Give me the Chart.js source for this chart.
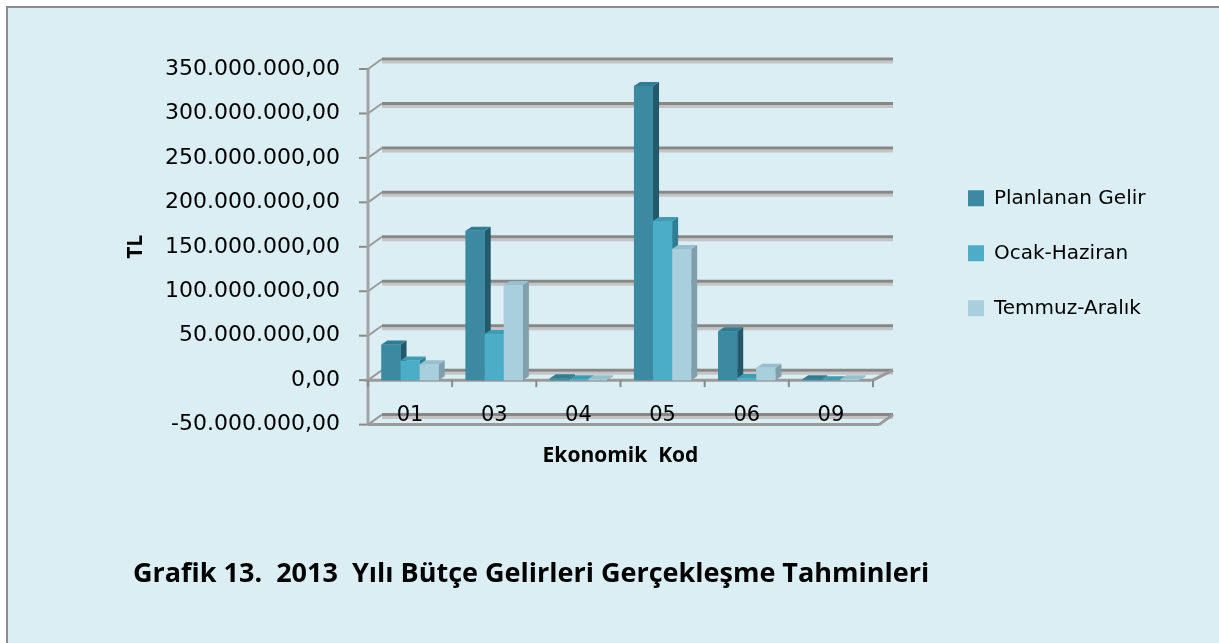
<!DOCTYPE html>
<html>
<head>
<meta charset="utf-8">
<script src="https://cdn.jsdelivr.net/npm/chart.js@4.4.1/dist/chart.umd.min.js"></script>
<style>
  html, body { margin: 0; padding: 0; background: #fff; }
  canvas { display: block; }
</style>
</head>
<body>
<canvas id="grafik13" width="1219" height="643"></canvas>
<script>
// veriler (TL)
var kodlar = ["01", "03", "04", "05", "06", "09"];
var planlananGelir = [40000000, 168000000, 2000000, 331000000, 55000000, 1000000];
var ocakHaziran = [22000000, 52000000, 1000000, 179000000, 2500000, 0];
var temmuzAralik = [18000000, 107000000, 1000000, 147500000, 14000000, 1000000];

var onRenk = ["#3B8AA2", "#4BADC7", "#A9CEDC"];
var yanRenk = ["#235A6B", "#2E7F95", "#7E9FAB"];
var ustRenk = ["#2F7C93", "#3E9DB5", "#98BFCE"];

var GRAFIK_SAG = 873;   // cizim alaninin sag kenari
var LEGEND_KAYMA = 60;  // legend ile grafik arasi bosluk

function tlFormat(v) {
    var s = Math.abs(v).toFixed(0).replace(/\B(?=(\d{3})+(?!\d))/g, ".");
    return (v < 0 ? "-" : "") + s + ",00";
}

function cizgi(ctx, x1, y1, x2, y2, renk, kalinlik) {
    ctx.strokeStyle = renk;
    ctx.lineWidth = kalinlik;
    ctx.beginPath();
    ctx.moveTo(x1, y1);
    ctx.lineTo(x2, y2);
    ctx.stroke();
}

// arka plan, cerceve, 3B duvar ve zemin
var arkaPlan = {
    id: 'arkaPlan',
    beforeDraw: function (chart) {
        var ctx = chart.ctx, w = chart.width, h = chart.height;
        var a = chart.chartArea, x = chart.scales.x, y = chart.scales.y;
        var dx = 14, dy = -10, uzat = 20;
        ctx.save();
        ctx.fillStyle = "#ffffff";
        ctx.fillRect(0, 0, w, h);
        ctx.fillStyle = "#DAEEF3";
        ctx.fillRect(7, 7, w, h);
        ctx.strokeStyle = "#8c8c8c";
        ctx.lineWidth = 2;
        ctx.beginPath();
        ctx.moveTo(7, h);
        ctx.lineTo(7, 7);
        ctx.lineTo(w, 7);
        ctx.stroke();

        y.ticks.forEach(function (t) {
            var py = y.getPixelForValue(t.value);
            cizgi(ctx, a.left + dx, py + dy + 3, a.right + uzat, py + dy + 3, "#c4c4c4", 3);
            cizgi(ctx, a.left + dx, py + dy, a.right + uzat, py + dy, "#878787", 3);
            cizgi(ctx, a.left, py, a.left + dx, py + dy, "#9a9a9a", 2);
            cizgi(ctx, a.left - 9, py, a.left, py, "#8a8a8a", 2);
        });
        cizgi(ctx, a.left, a.top, a.left, a.bottom, "#a3a3a3", 3);
        var y0 = y.getPixelForValue(0);
        cizgi(ctx, a.left - 3, y0, a.right, y0, "#9a9a9a", 3);
        cizgi(ctx, a.right, y0, a.right + uzat, y0 + dy, "#9a9a9a", 3);
        var n = chart.data.labels.length;
        for (var i = 0; i <= n; i++) {
            var px;
            if (i === 0) px = a.left;
            else if (i === n) px = a.right;
            else px = (x.getPixelForValue(i - 1) + x.getPixelForValue(i)) / 2;
            cizgi(ctx, px, y0, px, y0 + 7, "#8a8a8a", 2);
        }
        var yb = a.bottom;
        cizgi(ctx, a.left + dx, yb + dy + 3, a.right + uzat, yb + dy + 3, "#c4c4c4", 3);
        cizgi(ctx, a.left, yb, a.right + 6, yb, "#9a9a9a", 3);
        cizgi(ctx, a.right + 6, yb, a.right + uzat, yb + dy, "#9a9a9a", 3);
        ctx.restore();
    }
};

// 3B cubuklar
var cubuk3B = {
    id: 'cubuk3B',
    afterDatasetsDraw: function (chart) {
        var ctx = chart.ctx, d = 6, e = 4;
        var n = chart.data.labels.length;
        ctx.save();
        for (var j = 0; j < n; j++) {
            for (var i = 0; i < chart.data.datasets.length; i++) {
                var el = chart.getDatasetMeta(i).data[j];
                var p = el.getProps(['x', 'y', 'base', 'width'], true);
                var l = p.x - p.width / 2, r = p.x + p.width / 2;
                var ust = Math.min(p.y, p.base), alt = Math.max(p.y, p.base);
                ctx.fillStyle = yanRenk[i];
                ctx.beginPath();
                ctx.moveTo(r, ust); ctx.lineTo(r + d, ust - e); ctx.lineTo(r + d, alt - e); ctx.lineTo(r, alt);
                ctx.closePath(); ctx.fill();
                ctx.fillStyle = ustRenk[i];
                ctx.beginPath();
                ctx.moveTo(l, ust); ctx.lineTo(l + d, ust - e); ctx.lineTo(r + d, ust - e); ctx.lineTo(r, ust);
                ctx.closePath(); ctx.fill();
                ctx.fillStyle = onRenk[i];
                ctx.fillRect(l, ust, p.width, alt - ust);
            }
        }
        ctx.restore();
    }
};

var ctx = document.getElementById("grafik13").getContext('2d');
var grafik = new Chart(ctx, {
    type: 'bar',
    data: {
        labels: kodlar,
        datasets: [
            { label: 'Planlanan Gelir', data: planlananGelir, backgroundColor: onRenk[0], borderWidth: 0 },
            { label: 'Ocak-Haziran', data: ocakHaziran, backgroundColor: onRenk[1], borderWidth: 0 },
            { label: 'Temmuz-Aralık', data: temmuzAralik, backgroundColor: onRenk[2], borderWidth: 0 }
        ]
    },
    options: {
        responsive: false,
        animation: false,
        categoryPercentage: 0.68,
        barPercentage: 1,
        layout: { padding: { left: 133, top: 69, right: 40, bottom: 52 } },
        scales: {
            x: {
                grid: { display: false, drawTicks: false },
                border: { display: false },
                ticks: { padding: -22, color: '#000', font: { family: 'DejaVu Sans', size: 21 } },
                title: {
                    display: true, text: 'Ekonomik  Kod', color: '#000',
                    font: { family: 'Open Sans', size: 21, weight: 'bold' },
                    padding: { top: 15, bottom: 0 }
                },
                afterFit: function (s) { s.height = 44; },
                afterUpdate: function (s) { s._computeLabelArea = function () { return undefined; }; }
            },
            y: {
                min: -50000000, max: 350000000,
                grid: { display: false, drawTicks: false },
                border: { display: false },
                ticks: {
                    stepSize: 50000000, padding: 28, color: '#000',
                    font: { family: 'DejaVu Sans', size: 22 },
                    callback: function (v) { return tlFormat(v); }
                },
                title: {
                    display: true, text: 'TL', color: '#000',
                    font: { family: 'Open Sans', size: 21, weight: 'bold', lineHeight: 0.3 },
                    padding: 0
                },
                afterFit: function (s) { s.width = 235; }
            }
        },
        plugins: {
            legend: {
                position: 'right',
                fullSize: false,
                title: { display: true, text: ' ', font: { size: 5 }, padding: { top: 0, bottom: 7 } },
                labels: {
                    boxWidth: 16, boxHeight: 16, padding: 35, color: '#000',
                    font: { family: 'DejaVu Sans', size: 20 }
                }
            },
            title: {
                display: true, position: 'bottom', align: 'start',
                text: 'Grafik 13.  2013  Yılı Bütçe Gelirleri Gerçekleşme Tahminleri',
                color: '#000',
                font: { family: 'Open Sans', size: 27, weight: 'bold' },
                padding: { top: 90, bottom: 0 }
            },
            tooltip: { enabled: false }
        }
    },
    plugins: [arkaPlan, cubuk3B]
});

// legend'i grafikten biraz uzaklastir ve sag boslugu legend genisligine gore ayarla
var legend = grafik.legend;
var legendCiz = legend.draw.bind(legend);
legend.draw = function (alan) {
    var c = legend.ctx;
    c.save();
    c.translate(LEGEND_KAYMA, 0);
    legendCiz(alan);
    c.restore();
};
grafik.options.layout.padding.right = Math.max(0, grafik.width - GRAFIK_SAG - legend.width);
grafik.update();
</script>
</body>
</html>
